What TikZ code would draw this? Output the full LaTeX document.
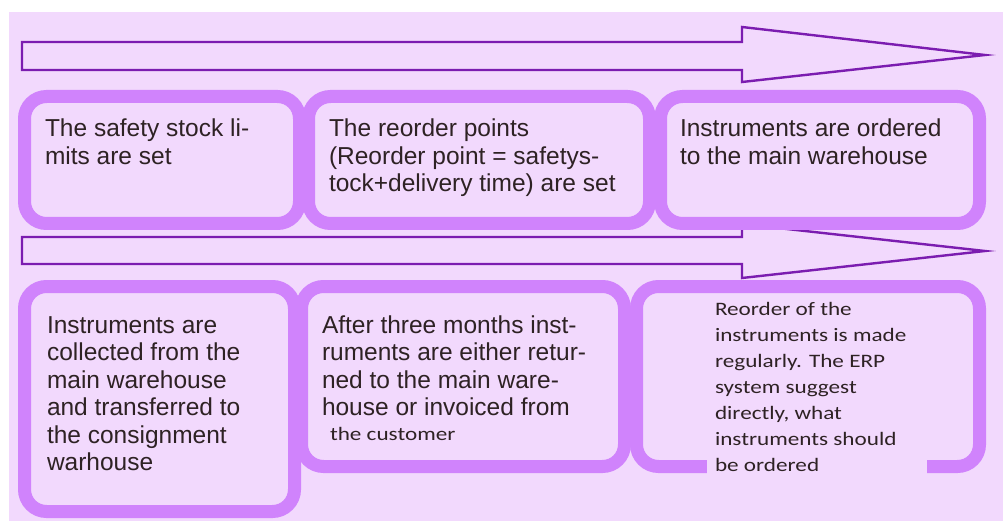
\documentclass[tikz,border=0pt]{standalone}
\usepackage{fontspec}
\newfontfamily\arialf{Liberation Sans}
\newfontfamily\calf[FakeStretch=1.22]{Carlito}
\definecolor{bgcol}{HTML}{F2D9FD}
\definecolor{bordercol}{HTML}{D083FC}
\definecolor{arrowcol}{HTML}{7B1CB0}
\definecolor{txtcol}{HTML}{2E2224}
\newcommand{\firstA}{\rule{0pt}{20pt}}
\newcommand{\firstC}{\rule{0pt}{16pt}}
\tikzset{
  stepbox/.style={rectangle, draw=bordercol, fill=bgcol, line width=13pt, rounded corners=22pt, inner sep=0pt, outer sep=0pt},
  bigarrow/.style={draw=arrowcol, line width=2.4pt, line join=miter},
  atext/.style={anchor=north west, inner sep=0pt, outer sep=0pt, align=left, text=txtcol, font=\arialf\fontsize{24.5}{27.5}\selectfont},
  ctext/.style={anchor=north west, inner sep=0pt, outer sep=0pt, align=left, text=txtcol, font=\calf\fontsize{19}{26}\selectfont},
}
\begin{document}
\begin{tikzpicture}[x=1pt,y=-1pt]
\useasboundingbox (0,0) rectangle (1003,521);
\fill[white] (0,0) rectangle (1003,521);
\fill[bgcol] (9,12) rectangle (1003,521);

% arrows
\draw[bigarrow] (22,42) -- (742,42) -- (742,27) -- (985,55) -- (742,82) -- (742,70) -- (22,70) -- cycle;
\draw[bigarrow] (22,237) -- (742,237) -- (742,224) -- (985,251) -- (742,278) -- (742,264) -- (22,264) -- cycle;

% row 1 boxes
\node[stepbox, minimum width=275pt, minimum height=127pt] (a1) at (162,160) {};
\node[stepbox, minimum width=341pt, minimum height=127pt] (a2) at (479,160) {};
\node[stepbox, minimum width=319pt, minimum height=127pt] (a3) at (820,160) {};

% row 2 boxes
\node[stepbox, minimum width=270pt, minimum height=225pt] (b1) at (159.5,399) {};
\node[stepbox, minimum width=323pt, minimum height=180pt] (b2) at (463,376.5) {};
\node[stepbox, minimum width=343pt, minimum height=180pt] (b3) at (808,376.5) {};
\fill[bgcol] (707,457) rectangle (927,477);

% texts
\node[atext] (ta1) at (45,117) {\firstA The safety stock li-\\mits are set};
\node[atext] (ta2) at (329,117) {\firstA The reorder points\\(Reorder point = safetys-\\tock+delivery time) are set};
\node[atext] (ta3) at (680,117) {\firstA Instruments are ordered\\to the main warehouse};
\node[atext] (tb1) at (47,313) {\firstA Instruments are\\collected from the\\main warehouse\\and transferred to\\the consignment\\warhouse};
\node[atext] (tb2) at (322,313) {\firstA After three months inst-\\ruments are either retur-\\ned to the main ware-\\house or invoiced from\\[-2.5pt]{\calf\fontsize{19}{26}\selectfont\hspace*{8pt}the customer}};
\node[ctext] (tb3) at (715,299) {\firstC Reorder of the\\instruments is made\\regularly. The ERP\\system suggest\\directly, what\\instruments should\\be ordered};
\end{tikzpicture}
\end{document}
